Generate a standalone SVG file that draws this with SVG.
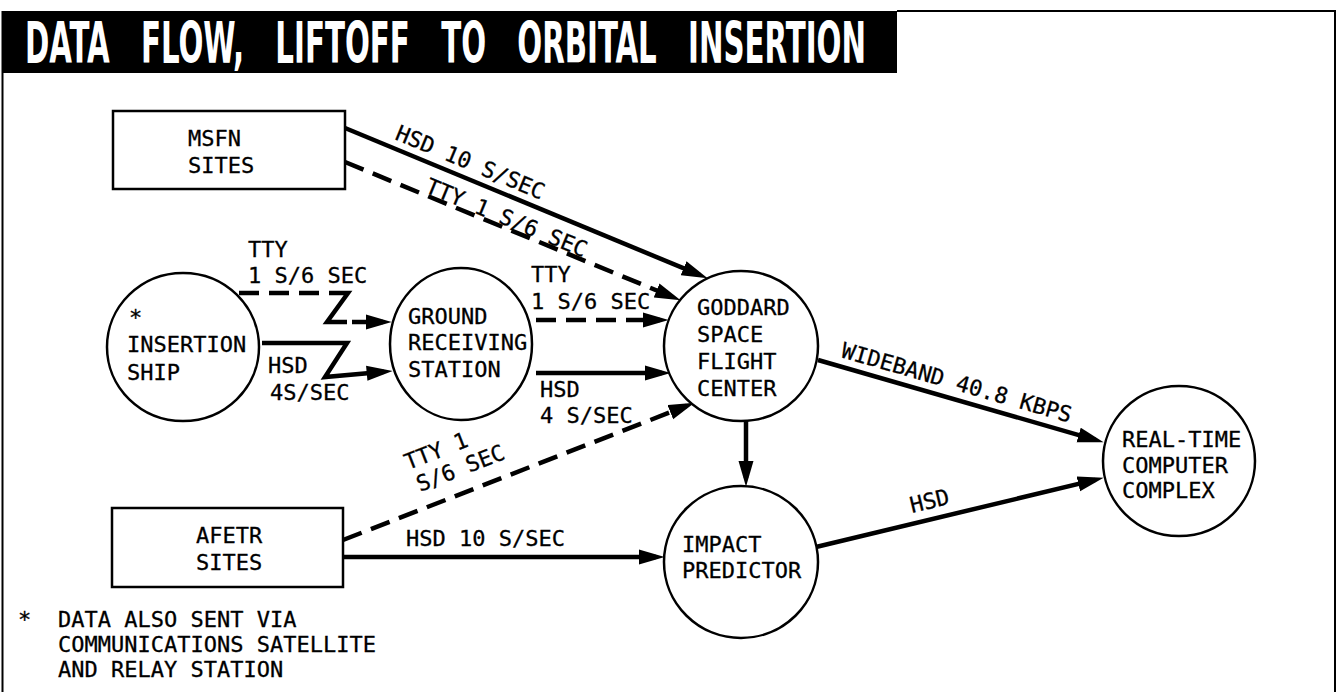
<svg xmlns="http://www.w3.org/2000/svg" width="1338" height="692" viewBox="0 0 1338 692">
<style>
.t{font-family:"DejaVu Sans Mono","Liberation Mono",monospace;font-size:22px;fill:#000;stroke:#000;stroke-width:0.3}
.title{font-family:"DejaVu Sans Condensed","DejaVu Sans","Liberation Sans",sans-serif;font-weight:bold;font-size:34px;fill:#fff;word-spacing:22px}
.shape{fill:#fff;stroke:#000;stroke-width:2.5}
.ln{fill:none;stroke:#000;stroke-width:4.5}
.dash{fill:none;stroke:#000;stroke-width:4.5;stroke-dasharray:20 10}
.frame{fill:none;stroke:#000;stroke-width:2}
</style>
<defs>
<marker id="ah" markerUnits="userSpaceOnUse" markerWidth="26" markerHeight="16" refX="16" refY="7" orient="auto" viewBox="0 0 24 14">
<path d="M0,0 L24,7 L0,14 z" fill="#000"/>
</marker>
</defs>
<rect width="1338" height="692" fill="#fff"/>
<g id="frame">
<rect x="3" y="11" width="894" height="62" fill="#000"/>
<path class="frame" d="M897,11 H1335 V692 M2.5,11 V692"/>
<text class="title" transform="translate(25,63) scale(1,1.65)" x="0" y="0" textLength="841" lengthAdjust="spacingAndGlyphs">DATA FLOW, LIFTOFF TO ORBITAL INSERTION</text>
</g>
<g id="connectors">
<path class="ln" d="M345,128 L699.6,274.9" marker-end="url(#ah)"/>
<path class="dash" d="M345,162 L672.6,297" marker-end="url(#ah)"/>
<path class="dash" d="M239,293 H333"/>
<path class="ln" d="M333,293 H348 L327,322 H347"/>
<path class="dash" d="M352,322 H383" marker-end="url(#ah)"/>
<path class="ln" d="M262,343 H347 L325,377 L384,371.7" marker-end="url(#ah)"/>
<path class="dash" d="M536,320 H660" marker-end="url(#ah)"/>
<path class="ln" d="M536,373 H662" marker-end="url(#ah)"/>
<path class="dash" d="M343,540 L686.5,405.9" marker-end="url(#ah)"/>
<path class="ln" d="M343,557 H656" marker-end="url(#ah)"/>
<path class="ln" d="M746,421 V478" marker-end="url(#ah)"/>
<path class="ln" d="M818,360 L1095.3,439.8" marker-end="url(#ah)"/>
<path class="ln" d="M816,547 L1095.2,479.9" marker-end="url(#ah)"/>
</g>
<g id="labels">
<text class="t" transform="translate(394,139) rotate(22.5)">HSD 10 S/SEC</text>
<text class="t" transform="translate(424,192) rotate(22.4)">TTY 1 S/6 SEC</text>
<text class="t" x="248" y="257">TTY</text>
<text class="t" x="248" y="283">1 S/6 SEC</text>
<text class="t" x="268" y="373">HSD</text>
<text class="t" x="270" y="400">4S/SEC</text>
<text class="t" x="531" y="282">TTY</text>
<text class="t" x="531" y="309">1 S/6 SEC</text>
<text class="t" x="540" y="397">HSD</text>
<text class="t" x="540" y="423">4 S/SEC</text>
<text class="t" transform="translate(408,470) rotate(-21.3)">TTY 1</text>
<text class="t" transform="translate(420,492) rotate(-21.3)">S/6 SEC</text>
<text class="t" x="406" y="546">HSD 10 S/SEC</text>
<text class="t" transform="translate(840,357) rotate(16)">WIDEBAND 40.8 KBPS</text>
<text class="t" transform="translate(912,513) rotate(-13.5)">HSD</text>
</g>
<g id="msfn">
<rect class="shape" x="113" y="111" width="232" height="78"/>
<text class="t" x="188" y="146">MSFN</text>
<text class="t" x="188" y="173">SITES</text>
</g>
<g id="afetr">
<rect class="shape" x="112" y="508" width="231" height="79"/>
<text class="t" x="196" y="543">AFETR</text>
<text class="t" x="196" y="570">SITES</text>
</g>
<g id="insertion">
<ellipse class="shape" cx="183" cy="347" rx="76" ry="74"/>
<text class="t" x="129" y="325">*</text>
<text class="t" x="127" y="352">INSERTION</text>
<text class="t" x="127" y="380">SHIP</text>
</g>
<g id="ground">
<ellipse class="shape" cx="461" cy="344" rx="71" ry="76"/>
<text class="t" x="408" y="324">GROUND</text>
<text class="t" x="408" y="350">RECEIVING</text>
<text class="t" x="408" y="377">STATION</text>
</g>
<g id="goddard">
<ellipse class="shape" cx="741" cy="346" rx="77" ry="75"/>
<text class="t" x="697" y="315">GODDARD</text>
<text class="t" x="697" y="342">SPACE</text>
<text class="t" x="697" y="369">FLIGHT</text>
<text class="t" x="697" y="396">CENTER</text>
</g>
<g id="impact">
<ellipse class="shape" cx="741" cy="562" rx="77" ry="76"/>
<text class="t" x="682" y="552">IMPACT</text>
<text class="t" x="682" y="578">PREDICTOR</text>
</g>
<g id="realtime">
<ellipse class="shape" cx="1179" cy="461" rx="76" ry="75"/>
<text class="t" x="1122" y="447">REAL-TIME</text>
<text class="t" x="1122" y="473">COMPUTER</text>
<text class="t" x="1122" y="498">COMPLEX</text>
</g>
<g id="footnote">
<text class="t" x="18" y="627">*</text>
<text class="t" x="58" y="627">DATA ALSO SENT VIA</text>
<text class="t" x="58" y="652">COMMUNICATIONS SATELLITE</text>
<text class="t" x="58" y="677">AND RELAY STATION</text>
</g>
</svg>
